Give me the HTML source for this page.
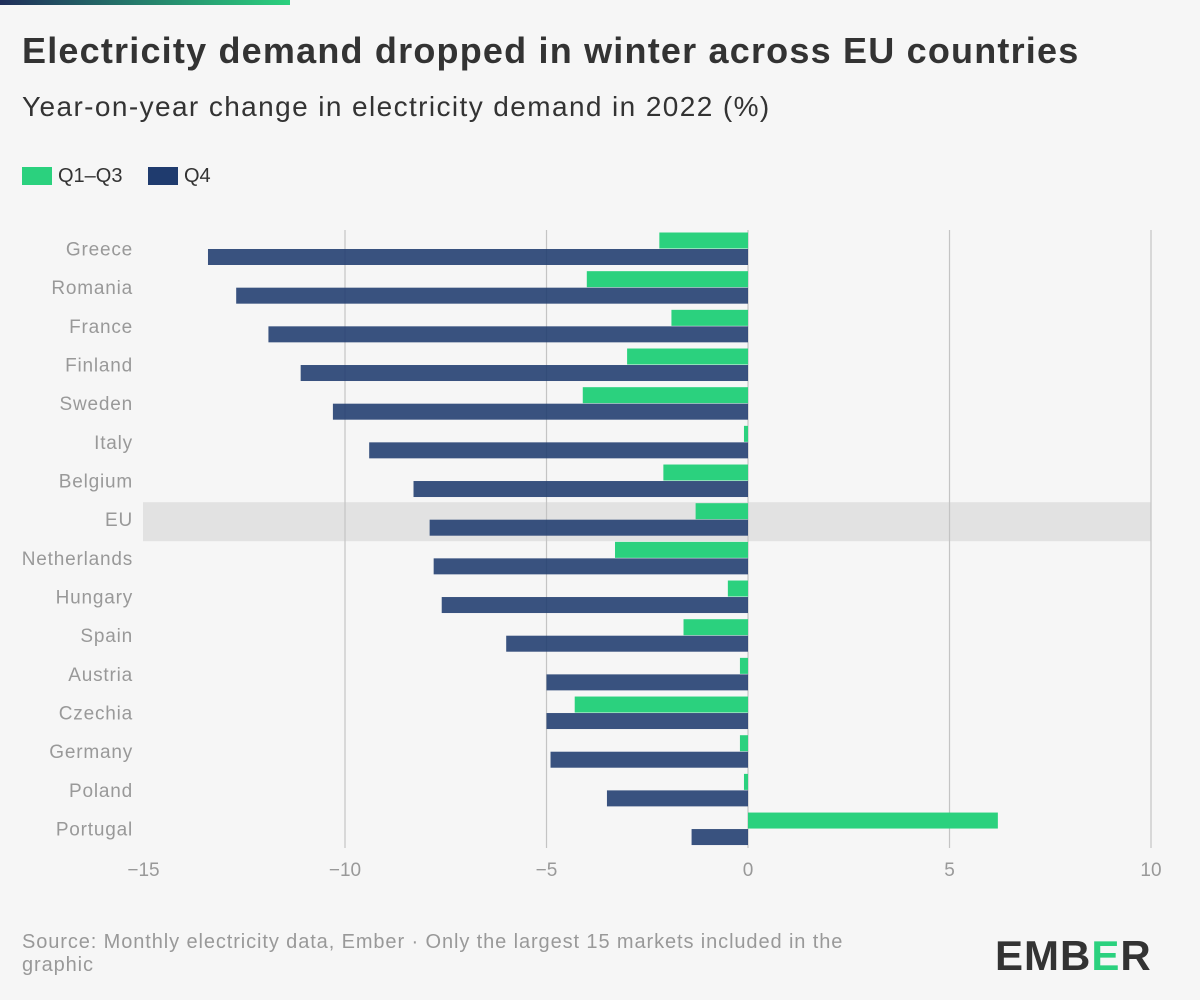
<!DOCTYPE html>
<html><head><meta charset="utf-8">
<style>
body{margin:0;background:#f6f6f6;font-family:"Liberation Sans",sans-serif;}
#wrap{position:relative;width:1200px;height:1000px;overflow:hidden;background:#f6f6f6;}
.abs{position:absolute;}
</style></head>
<body>
<div id="wrap">
<div class="abs" style="left:0;top:0;width:290px;height:5px;background:linear-gradient(90deg,#1f2e5a,#2bd17e);"></div>
<div class="abs" style="left:22px;top:30px;font-size:36px;font-weight:bold;color:#333;letter-spacing:1.2px;white-space:nowrap;">Electricity demand dropped in winter across EU countries</div>
<div class="abs" style="left:22px;top:91px;font-size:28px;color:#333;letter-spacing:1.4px;white-space:nowrap;">Year-on-year change in electricity demand in 2022 (%)</div>
<div class="abs" style="left:22px;top:165px;font-size:20px;color:#333;"><span style="display:inline-block;width:30px;height:18px;background:#2bd17e;vertical-align:-3px;margin-right:6px"></span>Q1–Q3</div>
<div class="abs" style="left:148px;top:165px;font-size:20px;color:#333;"><span style="display:inline-block;width:30px;height:18px;background:#1f3b6e;vertical-align:-3px;margin-right:6px"></span>Q4</div>
<svg class="abs" style="left:0;top:0" width="1200" height="1000" id="chart"></svg>
<div class="abs" style="left:22px;top:931px;width:880px;font-size:20px;line-height:23px;color:#999;letter-spacing:0.9px;">Source: Monthly electricity data, Ember · Only the largest 15 markets included in the graphic</div>
<div class="abs" style="left:995px;top:932px;font-size:42px;font-weight:bold;color:#333;letter-spacing:1px;">EMB<span style="color:#2bd17e">E</span>R</div>
</div>
<script>
const countries=["Greece","Romania","France","Finland","Sweden","Italy","Belgium","EU","Netherlands","Hungary","Spain","Austria","Czechia","Germany","Poland","Portugal"];
const q13=[-2.2,-4.0,-1.9,-3.0,-4.1,-0.1,-2.1,-1.3,-3.3,-0.5,-1.6,-0.2,-4.3,-0.2,-0.1,6.2];
const q4=[-13.4,-12.7,-11.9,-11.1,-10.3,-9.4,-8.3,-7.9,-7.8,-7.6,-6.0,-5.0,-5.0,-4.9,-3.5,-1.4];
const ticks=[-15,-10,-5,0,5,10];
const tickLabels=["−15","−10","−5","0","5","10"];
const NS="http://www.w3.org/2000/svg";
const svg=document.getElementById("chart");
const x=v=>748+(v)*40.3;
const rowTop=i=>232.5+i*38.67;
function mk(t,a){const e=document.createElementNS(NS,t);for(const k in a)e.setAttribute(k,a[k]);svg.appendChild(e);return e;}
const ei=countries.indexOf("EU");
const hl=mk("rect",{x:143,y:rowTop(ei)-1,width:1008,height:39,fill:"#e2e2e2"});


ticks.forEach((t,i)=>{
  if(t!==-15){const l=mk("line",{x1:x(t),x2:x(t),y1:230,y2:848,stroke:"#c4c4c4","stroke-width":1.2});
  
  }
  const tx=mk("text",{x:x(t),y:876,"text-anchor":"middle","font-size":19,fill:"#999"});
  tx.textContent=tickLabels[i];
  
  
});
countries.forEach((c,i)=>{
  const y=rowTop(i);
  const lb=mk("text",{x:133,y:y+23,"text-anchor":"end","font-size":19,fill:"#999","letter-spacing":0.8});
  lb.textContent=c;
  
  
  const a=mk("rect",{x:Math.min(x(0),x(q13[i])),y:y,width:Math.abs(x(q13[i])-x(0)),height:16,fill:"#2bd17e"});
  
  
  const b=mk("rect",{x:Math.min(x(0),x(q4[i])),y:y+16.5,width:Math.abs(x(q4[i])-x(0)),height:16,fill:"#1f3b6e","fill-opacity":0.88});
  
  
});
</script>
</body></html>
